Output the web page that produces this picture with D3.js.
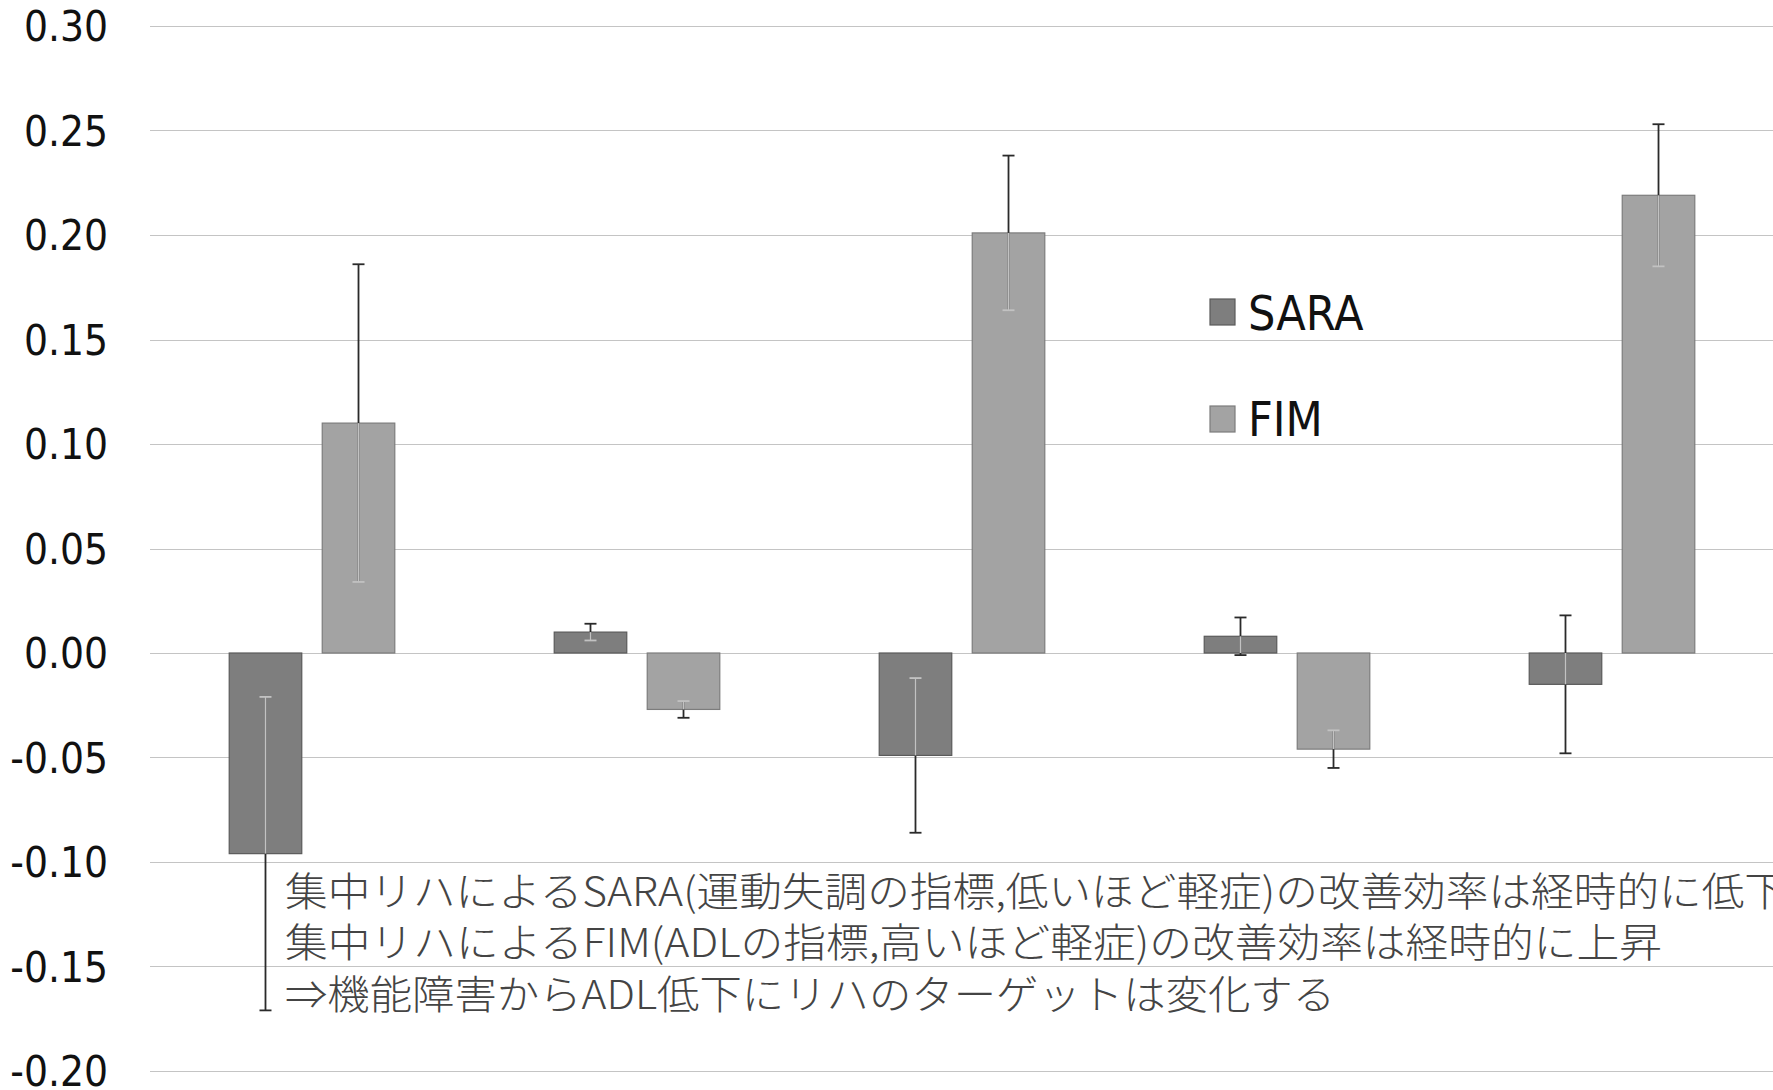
<!DOCTYPE html>
<html>
<head>
<meta charset="utf-8">
<script src="https://cdn.jsdelivr.net/npm/d3@7/dist/d3.min.js"></script>
<style>
  html, body { margin: 0; padding: 0; background: #ffffff; overflow: hidden; }
  svg { display: block; }
</style>
</head>
<body>
<svg id="chart" width="1773" height="1090"></svg>
<script>
// Periods compared (not labelled on the axis)
const periods = ["1", "2", "3", "4", "5"];
const seriesNames = ["SARA", "FIM"];

// Mean improvement-efficiency change per period
const saraValues = [-0.096, 0.010, -0.049, 0.008, -0.015];
const saraErrors = [0.075, 0.004, 0.037, 0.009, 0.033];
const fimValues = [0.110, -0.027, 0.201, -0.046, 0.219];
const fimErrors = [0.076, 0.004, 0.037, 0.009, 0.034];

const yTicks = [-0.20, -0.15, -0.10, -0.05, 0.00, 0.05, 0.10, 0.15, 0.20, 0.25, 0.30];

const noteLines = [
  "集中リハによるSARA(運動失調の指標,低いほど軽症)の改善効率は経時的に低下",
  "集中リハによるFIM(ADLの指標,高いほど軽症)の改善効率は経時的に上昇",
  "⇒機能障害からADL低下にリハのターゲットは変化する"
];

const colors = { SARA: "#7e7e7e", FIM: "#a3a3a3" };
const borders = { SARA: "#5a5a5a", FIM: "#7c7c7c" };

const svg = d3.select("#chart");

const y = d3.scaleLinear().domain([-0.20, 0.30]).range([1071, 26]);
const x0 = d3.scaleBand().domain(periods).range([149.5, 1774.5]).padding(0);
const x1 = d3.scaleBand().domain(seriesNames)
  .range([0, x0.bandwidth()])
  .paddingInner(0.22)
  .paddingOuter(0.857);

// Horizontal gridlines
svg.append("g").selectAll("line")
  .data(yTicks)
  .join("line")
  .attr("x1", 150)
  .attr("x2", 1773)
  .attr("y1", d => Math.round(y(d)) + 0.5)
  .attr("y2", d => Math.round(y(d)) + 0.5)
  .attr("stroke", "#c4c4c4")
  .attr("stroke-width", 1.2);

// Y axis labels
const labelFont = "'DejaVu Sans Condensed', 'DejaVu Sans', sans-serif";
svg.append("g").selectAll("text")
  .data(yTicks)
  .join("text")
  .attr("x", 108)
  .attr("y", d => y(d) + 15)
  .attr("text-anchor", "end")
  .attr("font-family", labelFont)
  .attr("font-stretch", "condensed")
  .attr("font-size", 42)
  .attr("fill", "#111")
  .text(d => (d < 0 ? "-" : "") + Math.abs(d).toFixed(2));

// Rows of bar data
const rows = periods.map((p, i) => [
  { period: p, key: "SARA", value: saraValues[i], err: saraErrors[i] },
  { period: p, key: "FIM", value: fimValues[i], err: fimErrors[i] }
]).flat();

// Bars
svg.append("g").selectAll("rect")
  .data(rows)
  .join("rect")
  .attr("x", d => x0(d.period) + x1(d.key))
  .attr("y", d => y(Math.max(0, d.value)))
  .attr("width", x1.bandwidth())
  .attr("height", d => Math.abs(y(d.value) - y(0)))
  .attr("fill", d => colors[d.key])
  .attr("stroke", d => borders[d.key])
  .attr("stroke-width", 1.2);

// Error bars: dark outside the bar, faint where they run inside the bar
const capHalf = 6;
const eg = svg.append("g");
rows.forEach(d => {
  const cx = x0(d.period) + x1(d.key) + x1.bandwidth() / 2;
  const lo = d.value - d.err, hi = d.value + d.err;
  const barLo = Math.min(0, d.value), barHi = Math.max(0, d.value);
  eg.append("line")
    .attr("x1", cx).attr("x2", cx)
    .attr("y1", y(lo)).attr("y2", y(hi))
    .attr("stroke", "#2a2a2a").attr("stroke-width", 1.8);
  [lo, hi].forEach(v => {
    const inside = v > barLo && v < barHi;
    eg.append("line")
      .attr("x1", cx - capHalf).attr("x2", cx + capHalf)
      .attr("y1", y(v)).attr("y2", y(v))
      .attr("stroke", inside ? "#c2c2c2" : "#2a2a2a")
      .attr("stroke-width", 1.8);
  });
  const inLo = Math.max(lo, barLo), inHi = Math.min(hi, barHi);
  if (inHi > inLo) {
    eg.append("line")
      .attr("x1", cx).attr("x2", cx)
      .attr("y1", y(inLo)).attr("y2", y(inHi))
      .attr("stroke", "#c2c2c2").attr("stroke-width", 1.8);
  }
});

// Legend
const legend = svg.append("g");
const legendRows = [
  { key: "SARA", top: 299, baseline: 330 },
  { key: "FIM", top: 406, baseline: 436 }
];
legendRows.forEach(r => {
  legend.append("rect")
    .attr("x", 1210).attr("y", r.top)
    .attr("width", 25).attr("height", 26)
    .attr("fill", colors[r.key])
    .attr("stroke", borders[r.key])
    .attr("stroke-width", 1.2);
  legend.append("text")
    .attr("x", 1248).attr("y", r.baseline)
    .attr("font-family", labelFont)
    .attr("font-stretch", "condensed")
    .attr("font-size", 48)
    .attr("fill", "#111")
    .text(r.key);
});

// Annotation
const noteWidths = [1502, 1377, 1050];
const noteBaselines = [906, 957, 1009];
svg.append("g").selectAll("text")
  .data(noteLines)
  .join("text")
  .attr("x", 285)
  .attr("y", (d, i) => noteBaselines[i])
  .attr("textLength", (d, i) => noteWidths[i])
  .attr("lengthAdjust", "spacingAndGlyphs")
  .attr("font-family", "'Noto Sans CJK JP', sans-serif")
  .attr("font-weight", 300)
  .attr("font-size", 40)
  .attr("fill", "#444")
  .text(d => d);
</script>
</body>
</html>
